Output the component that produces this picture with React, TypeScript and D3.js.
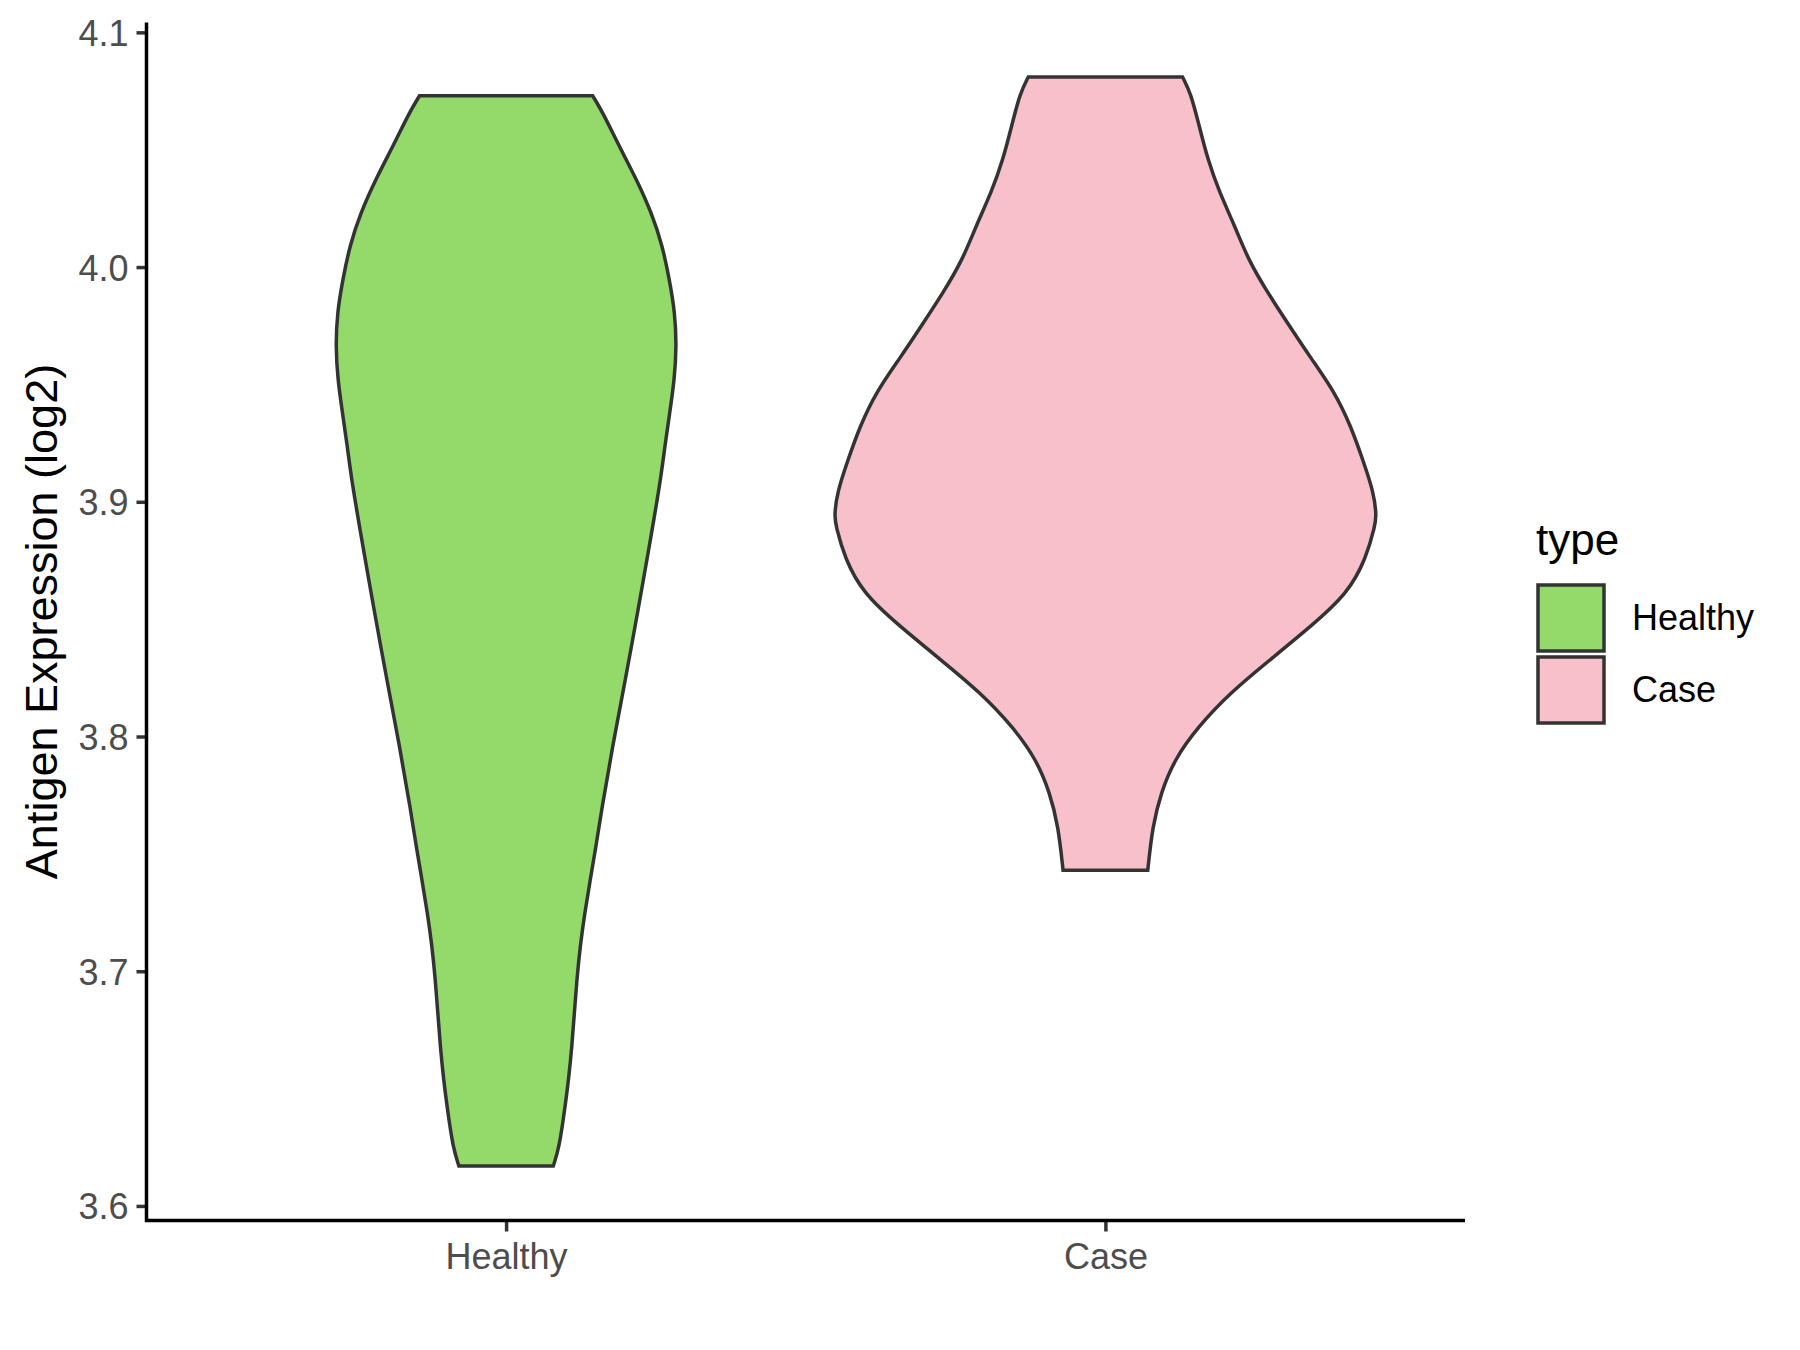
import { useRef, useEffect } from "react";
import * as d3 from "d3";

// groups and colours
const groups = ["Healthy", "Case"];
const fills = ["#93da6a", "#f8c0cb"];
const yTicks = [3.6, 3.7, 3.8, 3.9, 4.0, 4.1];

// violin outlines: value -> relative width (widest = 1)
const healthyValues = [
  3.617, 3.625, 3.640, 3.654, 3.668, 3.682, 3.696, 3.711, 3.725, 3.739, 3.753,
  3.768, 3.796, 3.824, 3.853, 3.881, 3.910, 3.924, 3.938, 3.952, 3.966, 3.981,
  3.995, 4.009, 4.023, 4.038, 4.052, 4.066, 4.073,
];
const healthyWidths = [
  0.175, 0.197, 0.216, 0.232, 0.244, 0.253, 0.262, 0.275, 0.292, 0.312, 0.333,
  0.353, 0.395, 0.442, 0.488, 0.531, 0.574, 0.589, 0.607, 0.624, 0.632, 0.626,
  0.605, 0.58, 0.54, 0.481, 0.417, 0.358, 0.321,
];
const caseValues = [
  3.743, 3.762, 3.776, 3.790, 3.804, 3.819, 3.833, 3.847, 3.861, 3.876, 3.890,
  3.894, 3.904, 3.918, 3.932, 3.947, 3.961, 3.975, 3.989, 4.003, 4.018, 4.032,
  4.046, 4.060, 4.074, 4.081,
];
const caseWidths = [
  0.157, 0.175, 0.206, 0.255, 0.342, 0.466, 0.614, 0.763, 0.899, 0.967, 1.0,
  1.005, 0.995, 0.954, 0.911, 0.849, 0.763, 0.682, 0.602, 0.53, 0.478, 0.422,
  0.379, 0.348, 0.317, 0.286,
];

export default function App() {
  const ref = useRef<SVGSVGElement>(null);

  useEffect(() => {
    const svg = d3.select(ref.current);
    svg.selectAll("*").remove();

    const font = "'Liberation Sans', Arial, Helvetica, sans-serif";
    const left = 146.5;
    const right = 1465;
    const top = 22.5;
    const bottom = 1220.5;

    const profiles = [
      healthyValues.map((v, i) => ({ v, w: healthyWidths[i] })),
      caseValues.map((v, i) => ({ v, w: caseWidths[i] })),
    ];

    // ggplot style 5% expansion
    const all = healthyValues.concat(caseValues);
    const lo = d3.min(all) as number;
    const hi = d3.max(all) as number;
    const pad = (hi - lo) * 0.05;

    const x = d3.scalePoint<string>().domain(groups).range([left, right]).padding(0.6);
    const y = d3.scaleLinear().domain([lo - pad, hi + pad]).range([bottom, top]);
    const half = x.step() * 0.45;

    // violins
    groups.forEach((g, gi) => {
      const cx = x(g) as number;
      const area = d3
        .area<{ v: number; w: number }>()
        .y((d) => y(d.v))
        .x0((d) => cx - d.w * half)
        .x1((d) => cx + d.w * half)
        .curve(d3.curveBasis);
      svg
        .append("path")
        .datum(profiles[gi])
        .attr("d", area)
        .attr("fill", fills[gi])
        .attr("stroke", "#333333")
        .attr("stroke-width", 3.5)
        .attr("stroke-linejoin", "miter");
    });

    // y axis
    const yAxis = svg
      .append("g")
      .attr("transform", `translate(${left},0)`)
      .call(d3.axisLeft(y).tickValues(yTicks).tickFormat(d3.format(".1f")).tickSize(10).tickPadding(8));
    yAxis.select(".domain").remove();
    yAxis.selectAll(".tick line").attr("stroke", "#333333").attr("stroke-width", 3.5);
    yAxis
      .selectAll(".tick text")
      .attr("fill", "#4d4d4d")
      .attr("dy", "0.36em")
      .style("font-family", font)
      .style("font-size", "36px");

    // x axis
    const xAxis = svg
      .append("g")
      .attr("transform", `translate(0,${bottom})`)
      .call(d3.axisBottom(x).tickSize(11).tickPadding(12));
    xAxis.select(".domain").remove();
    xAxis.selectAll(".tick line").attr("stroke", "#333333").attr("stroke-width", 3.5);
    xAxis
      .selectAll(".tick text")
      .attr("fill", "#4d4d4d")
      .style("font-family", font)
      .style("font-size", "36px");

    // axis lines
    svg
      .append("path")
      .attr("d", `M${left},${top} V${bottom} H${right}`)
      .attr("fill", "none")
      .attr("stroke", "black")
      .attr("stroke-width", 3.5);

    // y title
    svg
      .append("text")
      .attr("transform", `translate(57,${(top + bottom) / 2}) rotate(-90)`)
      .attr("text-anchor", "middle")
      .style("font-family", font)
      .style("font-size", "45px")
      .text("Antigen Expression (log2)");

    // legend
    const legend = svg.append("g").attr("transform", "translate(1536,555)");
    legend
      .append("text")
      .attr("x", 0)
      .attr("y", 0)
      .style("font-family", font)
      .style("font-size", "44px")
      .text("type");
    groups.forEach((g, i) => {
      legend
        .append("rect")
        .attr("x", 2)
        .attr("y", 30 + i * 72)
        .attr("width", 66)
        .attr("height", 66)
        .attr("fill", fills[i])
        .attr("stroke", "#333333")
        .attr("stroke-width", 3.5);
      legend
        .append("text")
        .attr("x", 96)
        .attr("y", 75 + i * 72)
        .style("font-family", font)
        .style("font-size", "36px")
        .text(g);
    });
  }, []);

  return (
    <svg
      ref={ref}
      width={1800}
      height={1350}
      style={{ position: "absolute", left: 0, top: 0, background: "white" }}
    />
  );
}
